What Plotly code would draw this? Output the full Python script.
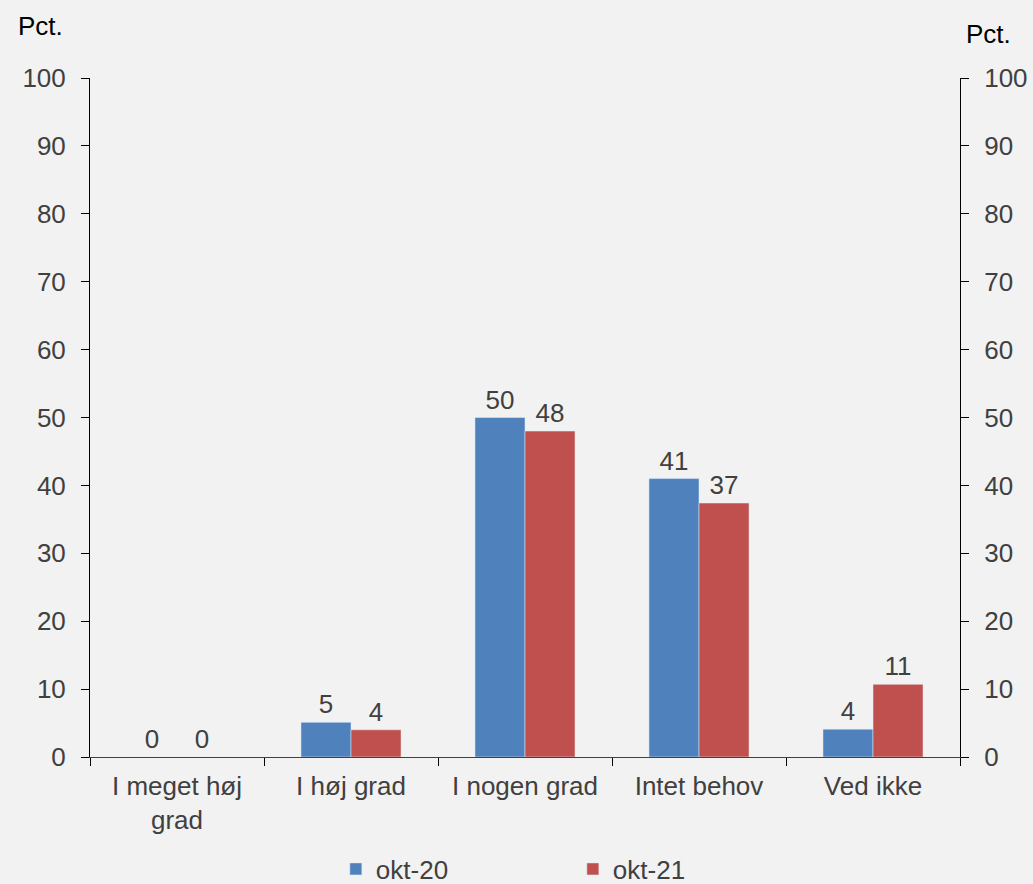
import plotly.graph_objects as go

categories = ["I meget høj<br>grad", "I høj grad", "I nogen grad", "Intet behov", "Ved ikke"]
okt20 = [0, 5.1, 50.0, 41.0, 4.1]
okt21 = [0, 4.0, 48.0, 37.4, 10.7]
yticks = [0, 10, 20, 30, 40, 50, 60, 70, 80, 90, 100]

font_fam = "Liberation Sans, Arial, sans-serif"
gray = "#404040"
FS = 26

fig = go.Figure()
fig.add_trace(go.Bar(x=categories, y=okt20, name="okt-20", marker_color="#4F81BD",
                     text=okt20, texttemplate="%{y:.0f}", textposition="outside",
                     textfont=dict(size=FS, color=gray, family=font_fam), cliponaxis=False))
fig.add_trace(go.Bar(x=categories, y=okt21, name="okt-21", marker_color="#C0504D",
                     text=okt21, texttemplate="%{y:.0f}", textposition="outside",
                     textfont=dict(size=FS, color=gray, family=font_fam), cliponaxis=False))
# invisible trace to anchor the right axis
fig.add_trace(go.Scatter(x=categories, y=okt20, yaxis="y2", mode="markers",
                         marker=dict(opacity=0), showlegend=False, hoverinfo="skip"))

axis_common = dict(range=[0, 100], tickvals=yticks, showgrid=False, zeroline=False,
                   showline=True, linecolor="#000000", linewidth=1, ticks="outside",
                   ticklen=8, tickcolor="#000000", ticklabelstandoff=10, automargin=False,
                   tickfont=dict(size=FS, color=gray, family=font_fam))

fig.update_layout(
    width=1033, height=884,
    paper_bgcolor="#F2F2F2", plot_bgcolor="#F2F2F2",
    margin=dict(l=90, r=73, t=78, b=127, autoexpand=False),
    barmode="group", bargap=0.425, bargroupgap=0,
    font=dict(family=font_fam, size=FS, color=gray),
    xaxis=dict(type="category", tickson="boundaries", ticks="outside", ticklen=8,
               tickcolor="#000000", showline=True, linecolor="#404040", linewidth=1,
               showgrid=False, automargin=False, ticklabelstandoff=6,
               tickfont=dict(size=FS, color=gray, family=font_fam)),
    yaxis=dict(side="left", **axis_common),
    yaxis2=dict(side="right", overlaying="y", **axis_common),
    legend=dict(orientation="h", x=0.555, xanchor="center", y=-0.165, yanchor="middle",
                font=dict(size=FS, color=gray, family=font_fam),
                entrywidth=192, itemwidth=30, bgcolor="rgba(0,0,0,0)"),
    showlegend=True,
)
fig.add_annotation(text="Pct.", xref="paper", yref="paper", x=-0.0846, y=1.052,
                   xanchor="left", yanchor="bottom", showarrow=False,
                   font=dict(size=FS, color="#000000", family=font_fam))
fig.add_annotation(text="Pct.", xref="paper", yref="paper", x=1.0046, y=1.040,
                   xanchor="left", yanchor="bottom", showarrow=False,
                   font=dict(size=FS, color="#000000", family=font_fam))

fig.write_html("out.html", config={"displayModeBar": False},
               post_script="document.body.style.margin='0';")
